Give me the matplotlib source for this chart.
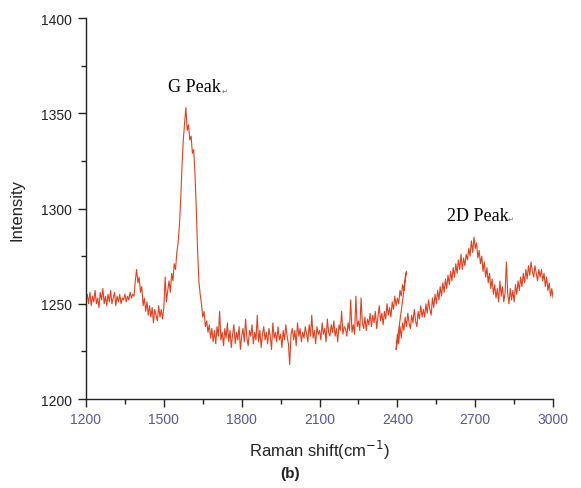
import numpy as np
import matplotlib
matplotlib.use("Agg")
import matplotlib.pyplot as plt
from matplotlib.ticker import MultipleLocator

# Segment 1: Raman shift 1200 -> 2435 cm^-1, sampled every 5 cm^-1
seg1_start, seg1_step = 1200, 5
seg1_intensity = [
    1252, 1255, 1250, 1256, 1249, 1254, 1251, 1257, 1250, 1253,
    1248, 1256, 1252, 1258, 1250, 1254, 1249, 1255, 1251, 1257,
    1250, 1253, 1256, 1249, 1254, 1251, 1255, 1250, 1253, 1252,
    1255, 1251, 1254, 1252, 1256, 1253, 1255, 1254, 1262, 1268,
    1261, 1264, 1256, 1259, 1249, 1253, 1246, 1251, 1244, 1249,
    1243, 1248, 1240, 1247, 1244, 1241, 1249, 1243, 1247, 1242,
    1248, 1264, 1251, 1257, 1262, 1256, 1266, 1262, 1271, 1268,
    1277, 1282, 1291, 1305, 1322, 1336, 1345, 1353, 1341, 1344,
    1336, 1338, 1329, 1331, 1318, 1300, 1278, 1262, 1255, 1250,
    1243, 1246, 1238, 1241, 1235, 1239, 1232, 1237, 1230, 1236,
    1229, 1238, 1233, 1246, 1231, 1235, 1228, 1237, 1232, 1240,
    1230, 1236, 1227, 1234, 1239, 1229, 1235, 1231, 1238, 1226,
    1233, 1237, 1230, 1242, 1232, 1228, 1236, 1233, 1239, 1229,
    1235, 1231, 1244, 1230, 1236, 1227, 1234, 1238, 1231, 1235,
    1229, 1237, 1233, 1226, 1240, 1232, 1235, 1230, 1238, 1231,
    1234, 1227, 1236, 1231, 1239, 1233, 1229, 1218, 1234, 1237,
    1231, 1236, 1228, 1240, 1233, 1237, 1230, 1235, 1232, 1238,
    1234, 1230, 1239, 1233, 1244, 1232, 1236, 1229, 1238, 1234,
    1236, 1231, 1240, 1234, 1237, 1230, 1242, 1235, 1233, 1239,
    1235, 1241, 1233, 1237, 1230, 1239, 1236, 1246, 1234, 1238,
    1237, 1233, 1240, 1236, 1252, 1235, 1239, 1234, 1254, 1238,
    1241, 1236, 1253, 1240, 1237, 1243, 1236, 1242, 1239, 1245,
    1238, 1244, 1240, 1246, 1237, 1243, 1249, 1241, 1245, 1239,
    1246, 1242, 1250, 1244, 1248, 1243, 1251, 1247, 1254, 1249,
    1253, 1250, 1257, 1254, 1260, 1257, 1264, 1267,
]

# Segment 2: Raman shift 2395 -> 3000 cm^-1, sampled every 5 cm^-1
seg2_start, seg2_step = 2395, 5
seg2_intensity = [
    1226, 1234, 1229, 1238, 1232, 1240, 1236, 1243, 1238, 1245, 1240,
    1237, 1244, 1240, 1247, 1241, 1238, 1246, 1242, 1249, 1243,
    1247, 1243, 1250, 1245, 1252, 1247, 1244, 1253, 1248, 1255,
    1250, 1257, 1252, 1259, 1254, 1261, 1256, 1263, 1258, 1265,
    1260, 1267, 1262, 1269, 1264, 1271, 1266, 1273, 1268, 1276,
    1268, 1274, 1270, 1276, 1273, 1279, 1275, 1283, 1277, 1285,
    1279, 1282, 1274, 1278, 1271, 1275, 1267, 1272, 1264, 1269,
    1261, 1266, 1258, 1263, 1255, 1260, 1253, 1258, 1251, 1262,
    1254, 1259, 1251, 1256, 1272, 1255, 1250, 1258, 1252, 1257,
    1251, 1260, 1255, 1262, 1257, 1264, 1259, 1266, 1261, 1268,
    1263, 1270, 1265, 1272, 1267, 1264, 1270, 1266, 1262, 1268,
    1264, 1268, 1262, 1266, 1259, 1264, 1257, 1261, 1254, 1258, 1253,
]

x_ticks = [1200, 1500, 1800, 2100, 2400, 2700, 3000]
y_ticks = [1200, 1250, 1300, 1350, 1400]

seg1_x = seg1_start + seg1_step * np.arange(len(seg1_intensity))
seg2_x = seg2_start + seg2_step * np.arange(len(seg2_intensity))
shift = np.concatenate([seg1_x, seg2_x])
intensity = np.concatenate([seg1_intensity, seg2_intensity])

plt.rcParams['font.family'] = ['Liberation Sans', 'DejaVu Sans']

fig = plt.figure(figsize=(5.81, 4.89), dpi=100)
ax = fig.add_axes([0.148, 0.182, 0.804, 0.779])
ax.plot(shift, intensity, color='#e2401f', lw=0.8)

ax.set_xlim(1200, 3000)
ax.set_ylim(1200, 1400)
ax.set_xticks(x_ticks)
ax.set_yticks(y_ticks)
ax.xaxis.set_minor_locator(MultipleLocator(150))
ax.yaxis.set_minor_locator(MultipleLocator(25))
for s in ['top', 'right']:
    ax.spines[s].set_visible(False)
for s in ['left', 'bottom']:
    ax.spines[s].set_linewidth(1.0)
    ax.spines[s].set_color('#222222')
ax.tick_params(axis='both', which='major', direction='out', length=6, width=1.0, color='#222222')
ax.tick_params(axis='both', which='minor', direction='out', length=3.5, width=1.0, color='#222222')
ax.tick_params(axis='x', labelsize=10, labelcolor='#57579a', pad=3)
ax.tick_params(axis='y', labelsize=10, labelcolor='#222222', pad=4)

ax.set_xlabel('Raman shift(cm$^{-1}$)', fontsize=12, color='#222222', labelpad=9)
ax.set_ylabel('Intensity', fontsize=12, color='#222222', labelpad=12)

ax.text(1516, 1364, 'G Peak', family='Liberation Serif', fontsize=13, va='center', ha='left')
ax.text(1516 + 205, 1364 - 2, '\u21b5', family='DejaVu Sans', fontsize=5, va='center', ha='left', color='#666666')
ax.text(2591, 1296.6, '2D Peak', family='Liberation Serif', fontsize=13, va='center', ha='left')
ax.text(2591 + 232, 1296.6 - 2, '\u21b5', family='DejaVu Sans', fontsize=5, va='center', ha='left', color='#666666')

fig.text(290 / 581, 1 - 474 / 489, '(b)', fontsize=11, fontweight='bold', ha='center', va='center', color='#222222')

fig.savefig('out.png', dpi=100)
